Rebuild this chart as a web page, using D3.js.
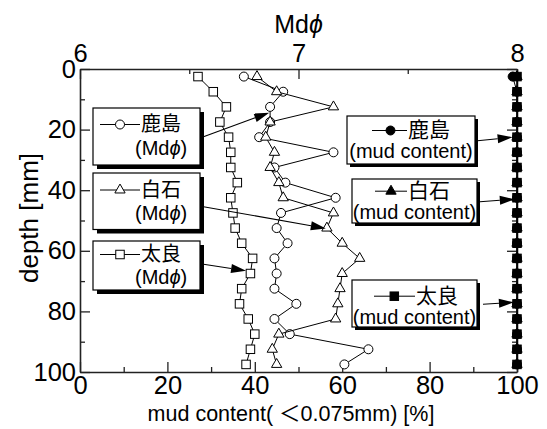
<!DOCTYPE html>
<html>
<head>
<meta charset="utf-8">
<script src="https://cdn.jsdelivr.net/npm/d3@7"></script>
<style>
  body { margin: 0; background: #fff; }
  svg { display: block; }
</style>
</head>
<body>
<svg id="chart" width="547" height="429"></svg>
<script>
// Sampling depths (mm)
const depths = [2.5, 7.5, 12.5, 17.5, 22.5, 27.5, 32.5, 37.5, 42.5, 47.5,
                52.5, 57.5, 62.5, 67.5, 72.5, 77.5, 82.5, 87.5, 92.5, 97.5];

// Median grain size Mdφ per site
const mdKashima   = [6.75, 6.93, 6.87, 6.87, 6.82, 7.16, 6.89, 6.94, 7.17, 6.92,
                     6.90, 6.95, 6.89, 6.90, 6.89, 6.99, 6.89, 6.96, 7.32, 7.21];
const mdShiraishi = [6.81, 6.90, 7.16, 6.87, 6.85, 6.89, 6.87, 6.91, 6.93, 7.16,
                     7.13, 7.20, 7.28, 7.20, 7.19, 7.18, 7.17, 6.91, 6.88, 6.90];
const mdTara      = [6.54, 6.61, 6.67, 6.64, 6.68, 6.69, 6.69, 6.72, 6.69, 6.70,
                     6.71, 6.74, 6.79, 6.78, 6.74, 6.73, 6.77, 6.80, 6.78, 6.76];

// Mud content (<0.075 mm) [%] per site
const mudKashima   = [99.0, 100, 100, 100, 100, 100, 100, 100, 100, 100,
                      100, 100, 100, 100, 100, 100, 100, 100, 100, 100];
const mudShiraishi = [100, 100, 100, 100, 100, 100, 100, 100, 100, 100,
                      100, 100, 100, 100, 100, 100, 100, 100, 100, 100];
const mudTara      = [100, 100, 100, 100, 100, 100, 100, 100, 100, 100,
                      100, 100, 100, 100, 100, 100, 100, 100, 100, 100];

// Tick values
const depthTicks = [0, 20, 40, 60, 80, 100];
const depthMinor = [10, 30, 50, 70, 90];
const mudTicks = [0, 20, 40, 60, 80, 100];
const mudMinor = [10, 30, 50, 70, 90];
const phiTicks = [6, 7, 8];
const phiMinor = [6.5, 7.5];

const LATIN = '"Liberation Sans", Arial, "Noto Sans CJK JP", sans-serif';
const CJK = '"Liberation Sans", "Noto Sans CJK JP", sans-serif';

const svg = d3.select('#chart');
svg.append('rect').attr('width', 547).attr('height', 429).attr('fill', '#fff');

const plot = { left: 80, right: 517, top: 69, bottom: 372 };
const xMud = d3.scaleLinear().domain([0, 100]).range([plot.left, plot.right]);
const xPhi = d3.scaleLinear().domain([6, 8]).range([plot.left, plot.right]);
const y = d3.scaleLinear().domain([0, 100]).range([plot.top, plot.bottom]);

const AXIS_COLOR = '#222';
const TICK_FONT = 25.5;

function styleAxis(g, fontSize) {
  g.attr('font-family', LATIN).attr('font-size', fontSize);
  g.selectAll('path.domain').attr('stroke', AXIS_COLOR).attr('stroke-width', 1.6);
  g.selectAll('.tick line').attr('stroke', AXIS_COLOR).attr('stroke-width', 1.3);
  g.selectAll('.tick text').attr('fill', '#000');
}

// Minor ticks (no labels, no domain)
function minor(axis, vals, transform) {
  const g = svg.append('g').attr('transform', transform)
    .call(axis.tickValues(vals).tickSize(-5).tickFormat(''));
  g.select('path.domain').remove();
  styleAxis(g, 10);
}
minor(d3.axisBottom(xMud), mudMinor, `translate(0,${plot.bottom})`);
minor(d3.axisTop(xPhi), phiMinor, `translate(0,${plot.top})`);
minor(d3.axisLeft(y), depthMinor, `translate(${plot.left},0)`);
minor(d3.axisRight(y), depthMinor, `translate(${plot.right},0)`);

// Major axes
const fmt = d3.format('d');
const gBottom = svg.append('g').attr('transform', `translate(0,${plot.bottom})`)
  .call(d3.axisBottom(xMud).tickValues(mudTicks).tickFormat(fmt).tickSize(-10).tickSizeOuter(0).tickPadding(4));
styleAxis(gBottom, TICK_FONT);

const gTop = svg.append('g').attr('transform', `translate(0,${plot.top})`)
  .call(d3.axisTop(xPhi).tickValues(phiTicks).tickFormat(fmt).tickSize(-10).tickSizeOuter(0).tickPadding(7));
styleAxis(gTop, TICK_FONT);

const gLeft = svg.append('g').attr('transform', `translate(${plot.left},0)`)
  .call(d3.axisLeft(y).tickValues(depthTicks).tickFormat(fmt).tickSize(-10).tickSizeOuter(0).tickPadding(4));
styleAxis(gLeft, TICK_FONT);

const gRight = svg.append('g').attr('transform', `translate(${plot.right},0)`)
  .call(d3.axisRight(y).tickValues(depthTicks).tickSize(-10).tickSizeOuter(0).tickFormat(''));
styleAxis(gRight, 10);

// Axis titles
svg.append('text').attr('x', (plot.left + plot.right) / 2).attr('y', 33)
  .attr('text-anchor', 'middle').attr('font-family', LATIN).attr('font-size', 25)
  .text('Md').append('tspan').attr('font-style', 'italic').text('ϕ');

svg.append('text').attr('transform', 'translate(38,218) rotate(-90)')
  .attr('text-anchor', 'middle').attr('font-family', LATIN).attr('font-size', 26)
  .text('depth [mm]');

svg.append('text').attr('x', 291).attr('y', 421)
  .attr('text-anchor', 'middle').attr('font-family', LATIN).attr('font-size', 21.5)
  .text('mud content( ＜0.075mm) [%]');

// Marker drawing helpers
const SQ = 8.5;
function marker(sel, shape, filled) {
  const fill = filled ? '#000' : '#fff';
  if (shape === 'circle') {
    sel.append('circle').attr('r', 4.5);
  } else if (shape === 'square') {
    sel.append('rect').attr('x', -SQ / 2).attr('y', -SQ / 2).attr('width', SQ).attr('height', SQ);
  } else {
    sel.append('path').attr('d', d3.symbol(d3.symbolTriangle, 46)());
  }
  sel.selectAll('circle,rect,path').attr('fill', fill).attr('stroke', '#000').attr('stroke-width', 1);
}

function series(values, xs, shape, filled) {
  const pts = values.map((v, i) => ({ v, d: depths[i] }));
  const g = svg.append('g');
  g.append('path').datum(pts)
    .attr('d', d3.line().x(p => xs(p.v)).y(p => y(p.d)))
    .attr('fill', 'none').attr('stroke', '#000').attr('stroke-width', 1);
  g.selectAll('g.m').data(pts).join('g').attr('class', 'm')
    .attr('transform', p => `translate(${xs(p.v)},${y(p.d)})`)
    .each(function () { marker(d3.select(this), shape, filled); });
}

// Mud content series (filled markers)
series(mudTara, xMud, 'square', true);
series(mudShiraishi, xMud, 'triangle', true);
series(mudKashima, xMud, 'circle', true);

// Mdφ series (open markers)
series(mdKashima, xPhi, 'circle', false);
series(mdShiraishi, xPhi, 'triangle', false);
series(mdTara, xPhi, 'square', false);

// Legend callouts
function arrow(x0, y0, x1, y1) {
  const g = svg.append('g');
  const a = Math.atan2(y1 - y0, x1 - x0);
  const L = 15, Wd = 4.5;
  const bx = x1 - L * Math.cos(a), by = y1 - L * Math.sin(a);
  g.append('line').attr('x1', x0).attr('y1', y0).attr('x2', bx).attr('y2', by)
    .attr('stroke', '#000').attr('stroke-width', 1.1);
  g.append('path')
    .attr('d', `M${x1},${y1}L${bx - Wd * Math.sin(a)},${by + Wd * Math.cos(a)}L${bx + Wd * Math.sin(a)},${by - Wd * Math.cos(a)}Z`)
    .attr('fill', '#000');
}

function legendBox(o) {
  const g = svg.append('g');
  g.append('rect').attr('x', o.x + o.sh).attr('y', o.y + o.sh).attr('width', o.w).attr('height', o.h).attr('fill', '#000');
  g.append('rect').attr('x', o.x).attr('y', o.y).attr('width', o.w).attr('height', o.h)
    .attr('fill', '#fff').attr('stroke', '#000').attr('stroke-width', 1.2);
  const ly = o.y + o.lineDy;
  g.append('line').attr('x1', o.lx0).attr('x2', o.lx1).attr('y1', ly).attr('y2', ly)
    .attr('stroke', '#000').attr('stroke-width', 1);
  const m = g.append('g').attr('transform', `translate(${o.mx},${ly})`);
  marker(m, o.shape, o.filled);
  g.append('text').attr('x', o.lx1 + 1).attr('y', ly + 6.5)
    .attr('font-family', CJK).attr('font-size', o.nameSize).text(o.name);
  const sub = g.append('text').attr('y', o.y + o.subDy).attr('font-family', LATIN).attr('font-size', o.subSize);
  if (o.subAnchor === 'middle') sub.attr('x', o.x + o.w / 2).attr('text-anchor', 'middle');
  else sub.attr('x', o.subX);
  if (o.phi) {
    sub.append('tspan').text('(Md');
    sub.append('tspan').attr('font-style', 'italic').text('ϕ');
    sub.append('tspan').text(')');
  } else {
    sub.text(o.sub);
  }
  arrow(o.ax, o.y + o.ayDy, o.tip[0], o.tip[1]);
}

// Mdφ legends (left)
legendBox({ x: 93, y: 108, w: 107, h: 57, sh: 4, lineDy: 16.5, lx0: 100, lx1: 140, mx: 120,
  shape: 'circle', filled: false, name: '鹿島', nameSize: 20, phi: true, subX: 135, subDy: 47, subSize: 20,
  ax: 203.5, ayDy: 28.7, tip: [xPhi(6.866), y(14.4)] });
legendBox({ x: 93, y: 173, w: 107, h: 56.5, sh: 4, lineDy: 17, lx0: 100, lx1: 140, mx: 120,
  shape: 'triangle', filled: false, name: '白石', nameSize: 20, phi: true, subX: 135, subDy: 47, subSize: 20,
  ax: 203.5, ayDy: 33.7, tip: [xPhi(7.125), y(52.6)] });
legendBox({ x: 93, y: 241, w: 107, h: 49, sh: 4, lineDy: 13.5, lx0: 100, lx1: 140, mx: 120,
  shape: 'square', filled: false, name: '太良', nameSize: 20, phi: true, subX: 135, subDy: 43, subSize: 20,
  ax: 203.5, ayDy: 23.3, tip: [xPhi(6.760), y(66.6)] });

// Mud content legends (right)
legendBox({ x: 347, y: 116, w: 128, h: 48, sh: 3, lineDy: 14.5, lx0: 372, lx1: 407, mx: 390.5,
  shape: 'circle', filled: true, name: '鹿島', nameSize: 21, sub: '(mud content)', subAnchor: 'middle', subDy: 42, subSize: 20,
  ax: 477.5, ayDy: 24.7, tip: [xMud(99.0), y(22.5)] });
legendBox({ x: 352, y: 179, w: 125, h: 44, sh: 3, lineDy: 12.2, lx0: 375, lx1: 407, mx: 391,
  shape: 'triangle', filled: true, name: '白石', nameSize: 21, sub: '(mud content)', subAnchor: 'middle', subDy: 40, subSize: 20,
  ax: 480, ayDy: 22.7, tip: [xMud(99.5), y(43)] });
legendBox({ x: 352, y: 280, w: 125, h: 47, sh: 3, lineDy: 16.2, lx0: 374, lx1: 415, mx: 394.3,
  shape: 'square', filled: true, name: '太良', nameSize: 21, sub: '(mud content)', subAnchor: 'middle', subDy: 43.5, subSize: 20,
  ax: 483, ayDy: 24.3, tip: [xMud(99.3), y(77)] });
</script>
</body>
</html>
